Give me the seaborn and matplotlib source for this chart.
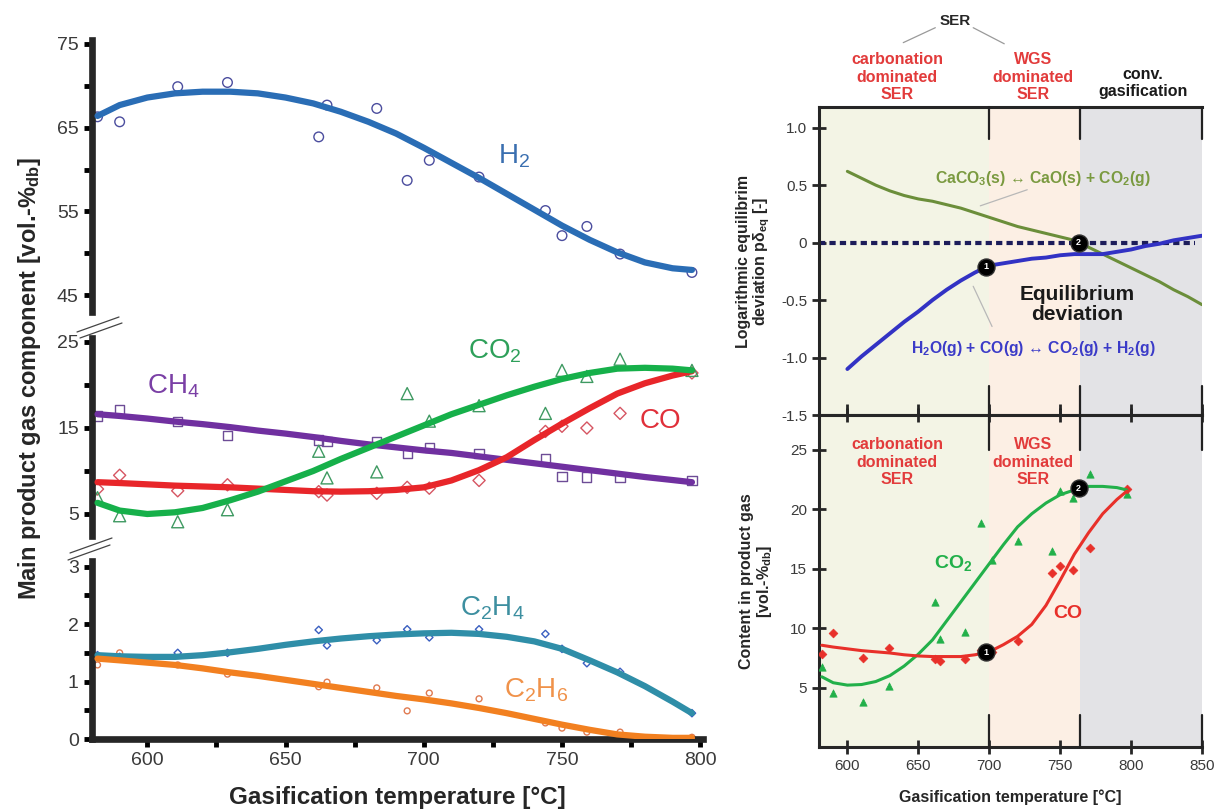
import matplotlib
matplotlib.use("Agg")
import matplotlib.pyplot as plt
from matplotlib.lines import Line2D
import seaborn as sns

sns.set_style("ticks")
plt.rcParams["font.family"] = ["Liberation Sans", "DejaVu Sans"]
plt.rcParams["mathtext.fontset"] = "custom"
plt.rcParams["mathtext.rm"] = "Liberation Sans"
plt.rcParams["mathtext.bf"] = "Liberation Sans:bold"
plt.rcParams["mathtext.it"] = "Liberation Sans:italic"
plt.rcParams["mathtext.default"] = "regular"

# ---------------- measured gas composition (vol.-% db) ----------------
temp_meas = [582, 590, 611, 629, 662, 665, 683, 694, 702, 720, 744, 750, 759, 771, 797]
h2_meas = [66.3, 65.7, 69.9, 70.4, 63.9, 67.7, 67.3, 58.7, 61.1, 59.1, 55.1, 52.1, 53.2, 49.9, 47.7]
ch4_meas = [16.4, 17.1, 15.8, 14.1, 13.6, 13.4, 13.4, 12.1, 12.7, 12.0, 11.4, 9.4, 9.3, 9.2, 8.9]
co_meas = [7.9, 9.5, 7.7, 8.4, 7.6, 7.2, 7.4, 8.1, 8.0, 8.9, 14.6, 15.2, 15.0, 16.7, 21.4]
co2_meas = [6.9, 4.8, 4.1, 5.5, 12.3, 9.2, 9.9, 19.0, 15.8, 17.6, 16.7, 21.7, 21.0, 23.0, 21.7]
c2h4_meas = [1.46, 1.43, 1.50, 1.50, 1.90, 1.63, 1.72, 1.91, 1.77, 1.91, 1.83, 1.57, 1.32, 1.17, 0.45]
c2h6_meas = [1.29, 1.50, 1.29, 1.13, 0.91, 0.99, 0.89, 0.49, 0.80, 0.70, 0.28, 0.19, 0.12, 0.12, 0.03]

# ---------------- fitted trend lines ----------------
temp_fit = [582, 590, 600, 610, 620, 630, 640, 650, 660, 670, 680, 690,
            700, 710, 720, 730, 740, 750, 760, 770, 780, 790, 797]
h2_fit = [66.4, 67.7, 68.6, 69.1, 69.3, 69.3, 69.1, 68.6, 67.9, 66.9, 65.7, 64.3,
          62.6, 60.8, 59.0, 57.1, 55.2, 53.3, 51.6, 50.1, 48.9, 48.2, 48.0]
ch4_fit = [16.6, 16.4, 16.1, 15.75, 15.45, 15.1, 14.7, 14.35, 13.95, 13.5, 13.1, 12.75,
           12.4, 12.1, 11.7, 11.3, 10.9, 10.5, 10.1, 9.7, 9.3, 8.95, 8.7]
co_fit = [8.7, 8.6, 8.45, 8.3, 8.2, 8.1, 7.95, 7.8, 7.65, 7.6, 7.65, 7.8,
          8.1, 8.9, 10.1, 11.6, 13.6, 15.5, 17.3, 19.0, 20.2, 21.1, 21.6]
co2_fit = [6.3, 5.4, 5.0, 5.2, 5.7, 6.6, 7.6, 8.8, 10.0, 11.4, 12.7, 14.0,
           15.3, 16.6, 17.7, 18.8, 19.8, 20.7, 21.4, 21.9, 22.0, 21.9, 21.7]
c2h4_fit = [1.46, 1.44, 1.43, 1.43, 1.46, 1.51, 1.57, 1.64, 1.70, 1.75, 1.79, 1.82,
            1.84, 1.85, 1.83, 1.78, 1.70, 1.57, 1.37, 1.16, 0.92, 0.65, 0.45]
c2h6_fit = [1.40, 1.37, 1.33, 1.29, 1.23, 1.16, 1.10, 1.03, 0.96, 0.89, 0.82, 0.75,
            0.69, 0.62, 0.54, 0.45, 0.35, 0.25, 0.16, 0.08, 0.04, 0.02, 0.02]

# ---------------- SER regime chart (CO / CO2 content) ----------------
co_ser = [7.8, 9.55, 7.5, 8.35, 7.4, 7.25, 7.4, 8.15, 8.0, 8.9, 14.65, 15.2, 14.9, 16.75, 21.7]
co2_ser = [6.75, 4.5, 3.8, 5.1, 12.2, 9.05, 9.7, 18.8, 15.7, 17.3, 16.5, 21.5, 20.95, 22.9, 21.3]
co_ser_fit = [8.55, 8.4, 8.25, 8.1, 8.0, 7.9, 7.75, 7.65, 7.6, 7.6, 7.6, 7.75,
              8.0, 8.6, 9.3, 10.3, 11.9, 14.0, 16.2, 18.0, 19.6, 20.8, 21.5]
co2_ser_fit = [5.9, 5.4, 5.2, 5.25, 5.5, 6.0, 6.8, 7.8, 9.0, 10.6, 12.2, 13.8,
               15.4, 17.0, 18.5, 19.6, 20.5, 21.2, 21.6, 21.9, 21.9, 21.8, 21.6]

# ---------------- logarithmic equilibrium deviation ----------------
temp_dev = [600, 610, 620, 630, 640, 650, 660, 670, 680, 690, 700, 710, 720,
            730, 740, 750, 760, 770, 780, 790, 800, 810, 820, 830, 840, 850]
dev_carbonation = [0.62, 0.56, 0.50, 0.45, 0.41, 0.38, 0.36, 0.33, 0.30, 0.26, 0.22, 0.18, 0.14,
                   0.11, 0.08, 0.05, 0.02, -0.04, -0.10, -0.16, -0.22, -0.28, -0.34, -0.41, -0.47, -0.54]
dev_wgs = [-1.10, -0.99, -0.89, -0.79, -0.69, -0.60, -0.50, -0.41, -0.33, -0.26, -0.20, -0.18, -0.16,
           -0.14, -0.13, -0.11, -0.10, -0.10, -0.10, -0.08, -0.06, -0.03, -0.01, 0.02, 0.04, 0.06]

# regime boundaries and marked transition points
regime_edges = [580, 700, 764, 850]
regime_colors = ["#f3f4e5", "#fcefe4", "#e3e3e6"]
point_labels = ["1", "2"]
point_temp = [698, 763]
point_dev = [-0.21, 0.0]
point_content = [7.95, 21.75]

W_PX, H_PX = 1217, 810
fig = plt.figure(figsize=(W_PX / 100, H_PX / 100), dpi=100)


def frac_box(x0, y0, x1, y1):
    """Axes rectangle from pixel corners (top-left origin)."""
    return [x0 / W_PX, 1 - y1 / H_PX, (x1 - x0) / W_PX, (y1 - y0) / H_PX]


# ======================= left figure: broken y axis =======================
ax_top = fig.add_axes(frac_box(92, 39.8, 703, 311.8))
ax_mid = fig.add_axes(frac_box(92, 337.7, 703, 535.5))
ax_bot = fig.add_axes(frac_box(92, 561, 703, 739))

TICK_COL = "#3a3a3a"
for ax in (ax_top, ax_mid, ax_bot):
    ax.set_xlim(580, 801)
    ax.set_facecolor("none")
    for side in ("top", "right"):
        ax.spines[side].set_visible(False)
    ax.spines["left"].set_linewidth(4.8)
    ax.tick_params(axis="both", which="both", direction="out", length=6, width=3.5,
                   labelsize=14, labelcolor=TICK_COL, color="black")
for ax in (ax_top, ax_mid):
    ax.spines["bottom"].set_visible(False)
    ax.tick_params(axis="x", which="both", bottom=False, labelbottom=False)
ax_bot.spines["bottom"].set_linewidth(4.8)

ax_top.set_ylim(43, 75.5)
ax_top.set_yticks([45, 55, 65, 75])
ax_top.set_yticks([50, 60, 70], minor=True)
ax_mid.set_ylim(2.5, 25.5)
ax_mid.set_yticks([5, 15, 25])
ax_mid.set_yticks([10, 20], minor=True)
ax_bot.set_ylim(0, 3.1)
ax_bot.set_yticks([0, 1, 2, 3])
ax_bot.set_yticks([0.5, 1.5, 2.5], minor=True)
ax_bot.set_xticks([600, 650, 700, 750, 800])
ax_bot.set_xticks([625, 675, 725, 775], minor=True)

series = [
    (ax_top, h2_meas, h2_fit, "o", 48, "#4b4d9e", "#2a6db5"),
    (ax_mid, ch4_meas, ch4_fit, "s", 44, "#6d4c96", "#7030a0"),
    (ax_mid, co_meas, co_fit, "D", 38, "#d65562", "#e8262a"),
    (ax_mid, co2_meas, co2_fit, "^", 75, "#3f9a62", "#16b04a"),
    (ax_bot, c2h4_meas, c2h4_fit, "D", 14, "#3a5fc0", "#2f8ea8"),
    (ax_bot, c2h6_meas, c2h6_fit, "o", 18, "#e07a50", "#f28020"),
]
for ax, meas, fit, mk, size, mcol, lcol in series:
    sns.scatterplot(x=temp_meas, y=meas, ax=ax, marker=mk, s=size, color=mcol,
                    edgecolor=mcol, facecolor="none", linewidth=1.0, zorder=2)
    sns.lineplot(x=temp_fit, y=fit, ax=ax, color=lcol, linewidth=4.5,
                 estimator=None, zorder=3, solid_capstyle="round")

ax_top.text(727, 61.6, "H$_2$", color="#3a6fb0", fontsize=20, va="center")
ax_mid.text(600, 19.9, "CH$_4$", color="#7a3fa5", fontsize=20, va="center")
ax_mid.text(716, 23.9, "CO$_2$", color="#2ea05a", fontsize=20, va="center")
ax_mid.text(778, 15.8, "CO", color="#e0303a", fontsize=20, va="center")
ax_bot.text(713, 2.28, "C$_2$H$_4$", color="#3d8fa0", fontsize=20, va="center")
ax_bot.text(729, 0.85, "C$_2$H$_6$", color="#f0924a", fontsize=20, va="center")

for ax in (ax_top, ax_mid, ax_bot):
    ax.set_ylabel("")
    ax.set_xlabel("")
ax_bot.set_xlabel("Gasification temperature [°C]", fontsize=17.5, fontweight="bold",
                  labelpad=12)
fig.text(30 / W_PX, 1 - 378 / H_PX, "Main product gas component [vol.-%$_{\\mathbf{db}}$]",
         rotation=90, fontsize=17, fontweight="bold", ha="center", va="center")

# axis break marks
for (x0, y0, x1, y1) in [(77, 332, 119, 317), (80, 338, 122, 323),
                         (70, 553, 112, 538), (68, 560, 110, 545)]:
    fig.add_artist(Line2D([x0 / W_PX, x1 / W_PX], [1 - y0 / H_PX, 1 - y1 / H_PX],
                          transform=fig.transFigure, color="#444444", lw=0.9))

# ======================= right figure: SER regimes =======================
ax_dev = fig.add_axes(frac_box(819, 107, 1202, 415))
ax_gas = fig.add_axes(frac_box(819, 415, 1202, 747))

for ax in (ax_dev, ax_gas):
    ax.set_xlim(580, 850)
    for lo, hi, col in zip(regime_edges[:-1], regime_edges[1:], regime_colors):
        ax.axvspan(lo, hi, color=col, lw=0, zorder=0)
    ax.spines["right"].set_visible(False)
    for side in ("left", "top", "bottom"):
        ax.spines[side].set_linewidth(2.2)
    for xb in regime_edges[1:]:
        ax.axvline(xb, ymin=0, ymax=0.095, color="#222222", lw=1.6, clip_on=False, zorder=4)
        ax.axvline(xb, ymin=0.895, ymax=1, color="#222222", lw=1.6, clip_on=False, zorder=4)
    ax.set_xticks([600, 650, 700, 750, 800, 850])
    ax.tick_params(axis="y", direction="inout", length=10, width=2, labelsize=11,
                   labelcolor=TICK_COL)

ax_dev.tick_params(axis="x", direction="in", length=8, width=2, labelbottom=False)
ax_gas.tick_params(axis="x", direction="inout", length=10, width=2, top=True,
                   labelsize=11, labelcolor=TICK_COL)

# equilibrium deviation panel
ax_dev.set_ylim(-1.5, 1.18)
ax_dev.set_yticks([-1.5, -1.0, -0.5, 0, 0.5, 1.0])
ax_dev.set_yticklabels(["-1.5", "-1.0", "-0.5", "0", "0.5", "1.0"])
ax_dev.hlines(0, 580, 845, colors="#1c1c5a", linestyles=(0, (1.5, 1.0)), lw=3, zorder=2)
sns.lineplot(x=temp_dev, y=dev_carbonation, ax=ax_dev, color="#6b8e3a", linewidth=2.2,
             estimator=None, zorder=3)
sns.lineplot(x=temp_dev, y=dev_wgs, ax=ax_dev, color="#3232c4", linewidth=2.8,
             estimator=None, zorder=3)
sns.scatterplot(x=point_temp, y=point_dev, ax=ax_dev, s=150, color="black",
                edgecolor="#333333", zorder=5)
for lab, tx, ty in zip(point_labels, point_temp, point_dev):
    ax_dev.text(tx, ty, lab, color="white", fontsize=6.5, fontweight="bold",
                ha="center", va="center", zorder=6)

ax_dev.text(738, 0.56, "CaCO$_3$(s) ↔ CaO(s) + CO$_2$(g)", color="#7a9a40", fontsize=11.3,
            fontweight="bold", ha="center", va="center")
ax_dev.plot([693.7, 726.8], [0.32, 0.46], color="#b8b8b8", lw=0.9)
ax_dev.text(762, -0.54, "Equilibrium\ndeviation", color="#1a1a1a", fontsize=15,
            fontweight="bold", ha="center", va="center", linespacing=1.1)
ax_dev.text(731, -0.92, "H$_2$O(g) + CO(g) ↔ CO$_2$(g) + H$_2$(g)", color="#3b3bc8",
            fontsize=11.3, fontweight="bold", ha="center", va="center")
ax_dev.plot([688.7, 702], [-0.38, -0.73], color="#b8b8b8", lw=0.9)

ax_dev.set_ylabel("Logarithmic equilibrim\ndeviation pδ$_{\\mathbf{eq}}$ [-]", fontsize=11.5,
                  fontweight="bold", linespacing=1.05)
ax_dev.yaxis.set_label_coords(-0.122, 0.5)
ax_dev.set_xlabel("")

# regime headings above the panel
ax_dev.text(676, 1.93, "SER", fontsize=11, fontweight="bold", ha="center", va="center",
            clip_on=False)
ax_dev.plot([662, 639.4], [1.87, 1.74], color="#9a9a9a", lw=0.9, clip_on=False)
ax_dev.plot([688.7, 710.6], [1.87, 1.73], color="#9a9a9a", lw=0.9, clip_on=False)
ax_dev.text(635.2, 1.44, "carbonation\ndominated\nSER", color="#e23b3b", fontsize=11.5,
            fontweight="bold", ha="center", va="center", linespacing=1.2, clip_on=False)
ax_dev.text(731, 1.44, "WGS\ndominated\nSER", color="#e23b3b", fontsize=11.5,
            fontweight="bold", ha="center", va="center", linespacing=1.2, clip_on=False)
ax_dev.text(808.5, 1.39, "conv.\ngasification", color="#1a1a1a", fontsize=11.5,
            fontweight="bold", ha="center", va="center", linespacing=1.2, clip_on=False)

# product gas content panel
ax_gas.set_ylim(0, 27.9)
ax_gas.set_yticks([5, 10, 15, 20, 25])
sns.scatterplot(x=temp_meas, y=co2_ser, ax=ax_gas, marker="^", s=28, color="#22b04a",
                edgecolor="#22b04a", linewidth=0.5, zorder=3)
sns.scatterplot(x=temp_meas, y=co_ser, ax=ax_gas, marker="D", s=20, color="#e8302a",
                edgecolor="#e8302a", linewidth=0.5, zorder=3)
sns.lineplot(x=temp_fit, y=co2_ser_fit, ax=ax_gas, color="#22b04a", linewidth=2.2,
             estimator=None, zorder=3)
sns.lineplot(x=temp_fit, y=co_ser_fit, ax=ax_gas, color="#e8302a", linewidth=2.2,
             estimator=None, zorder=3)
sns.scatterplot(x=point_temp, y=point_content, ax=ax_gas, s=150, color="black",
                edgecolor="#333333", zorder=5)
for lab, tx, ty in zip(point_labels, point_temp, point_content):
    ax_gas.text(tx, ty, lab, color="white", fontsize=6.5, fontweight="bold",
                ha="center", va="center", zorder=6)

ax_gas.text(635.2, 23.95, "carbonation\ndominated\nSER", color="#e23b3b", fontsize=11.5,
            fontweight="bold", ha="center", va="center", linespacing=1.2)
ax_gas.text(731, 23.95, "WGS\ndominated\nSER", color="#e23b3b", fontsize=11.5,
            fontweight="bold", ha="center", va="center", linespacing=1.2)
ax_gas.text(674.6, 15.5, "CO$_2$", color="#22b04a", fontsize=14, fontweight="bold",
            ha="center", va="center")
ax_gas.text(755.6, 11.2, "CO", color="#e8302a", fontsize=14, fontweight="bold",
            ha="center", va="center")

ax_gas.set_ylabel("Content in product gas\n[vol.-%$_{\\mathbf{db}}$]", fontsize=11.5,
                  fontweight="bold", linespacing=1.05)
ax_gas.yaxis.set_label_coords(-0.117, 0.5)
ax_gas.set_xlabel("Gasification temperature [°C]", fontsize=11.5, fontweight="bold",
                  labelpad=12)

fig.savefig("out.png", dpi=100, facecolor="white")
